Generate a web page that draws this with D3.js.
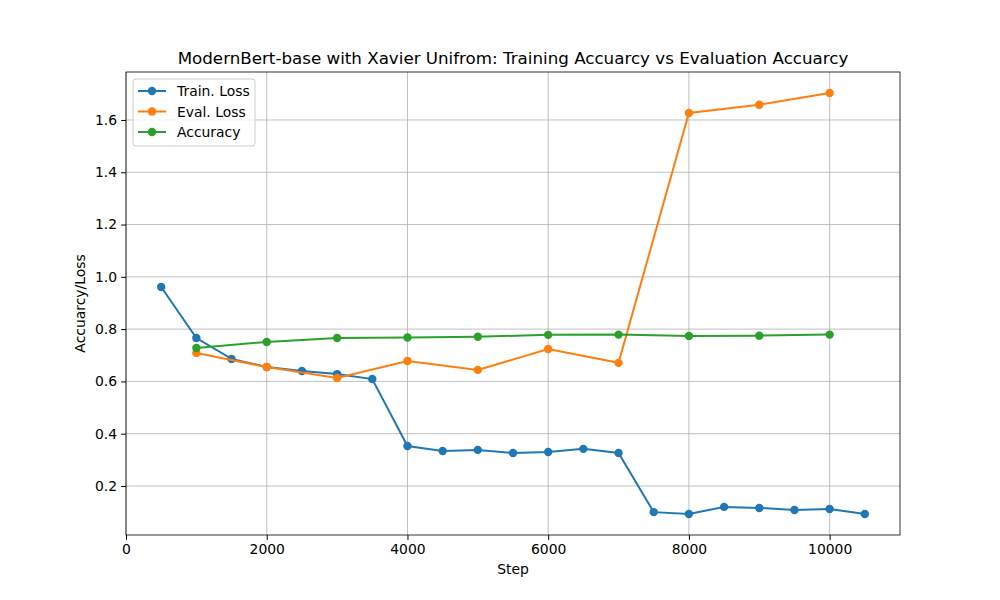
<!DOCTYPE html>
<html><head><meta charset="utf-8">
<script src="https://cdn.jsdelivr.net/npm/d3@7"></script>
<style>body{margin:0;background:#fff}text{font-family:"DejaVu Sans",sans-serif}</style>
</head><body>
<script>
var trainSteps = [500,1000,1500,2000,2500,3000,3500,4000,4500,5000,5500,6000,6500,7000,7500,8000,8500,9000,9500,10000,10500];
var trainLoss = [0.961,0.766,0.686,0.655,0.640,0.628,0.609,0.353,0.334,0.338,0.326,0.330,0.342,0.326,0.100,0.093,0.120,0.116,0.108,0.112,0.093];
var evalSteps = [1000,2000,3000,4000,5000,6000,7000,8000,9000,10000];
var evalLoss = [0.709,0.655,0.613,0.678,0.644,0.724,0.671,1.627,1.658,1.703];
var accuracy = [0.728,0.751,0.766,0.768,0.771,0.778,0.779,0.774,0.775,0.779];
var xTicks = [0,2000,4000,6000,8000,10000];
var yTicks = [0.2,0.4,0.6,0.8,1.0,1.2,1.4,1.6];

var w = 1000, h = 600;
var m = {left:126, right:900, top:72, bottom:535};
var svg = d3.select("body").append("svg").attr("width", w).attr("height", h);
var x = d3.scaleLinear().domain([0,11000]).range([m.left,m.right]);
var y = d3.scaleLinear().domain([0.0125,1.7835]).range([m.bottom,m.top]);

// grid
svg.append("g").selectAll("line").data(xTicks).enter().append("line")
  .attr("x1", d => x(d)).attr("x2", d => x(d)).attr("y1", m.top).attr("y2", m.bottom)
  .attr("stroke", "#b0b0b0").attr("stroke-width", 0.8);
svg.append("g").selectAll("line").data(yTicks).enter().append("line")
  .attr("y1", d => y(d)).attr("y2", d => y(d)).attr("x1", m.left).attr("x2", m.right)
  .attr("stroke", "#b0b0b0").attr("stroke-width", 0.8);

var xa = svg.append("g").attr("transform", "translate(0," + m.bottom + ")")
  .call(d3.axisBottom(x).tickValues(xTicks).tickSize(4.9).tickPadding(4).tickFormat(d3.format("d")));
var ya = svg.append("g").attr("transform", "translate(" + m.left + ",0)")
  .call(d3.axisLeft(y).tickValues(yTicks).tickSize(4.9).tickPadding(4).tickFormat(d3.format(".1f")));
[xa, ya].forEach(function(a) {
  a.select(".domain").remove();
  a.selectAll("text").attr("font-size", 13.9).attr("fill", "#000");
});
svg.append("rect").attr("x", m.left).attr("y", m.top).attr("width", m.right - m.left)
  .attr("height", m.bottom - m.top).attr("fill", "none").attr("stroke", "#000").attr("stroke-width", 0.8);

var series = [
  {name:"Train. Loss", xs:trainSteps, ys:trainLoss, color:"#1f77b4"},
  {name:"Eval. Loss", xs:evalSteps, ys:evalLoss, color:"#ff7f0e"},
  {name:"Accuracy", xs:evalSteps, ys:accuracy, color:"#2ca02c"}
];
var line = d3.line().x(d => x(d[0])).y(d => y(d[1]));
series.forEach(function(s) {
  var pts = s.xs.map((v, i) => [v, s.ys[i]]);
  svg.append("path").datum(pts).attr("d", line).attr("fill", "none")
    .attr("stroke", s.color).attr("stroke-width", 2);
  svg.append("g").selectAll("circle").data(pts).enter().append("circle")
    .attr("cx", d => x(d[0])).attr("cy", d => y(d[1])).attr("r", 4.2).attr("fill", s.color);
});

// legend
var lg = svg.append("g").attr("transform", "translate(133,79)");
lg.append("rect").attr("width", 122).attr("height", 67).attr("rx", 3)
  .attr("fill", "#fff").attr("fill-opacity", 0.8).attr("stroke", "#ccc");
series.forEach(function(s, i) {
  var yy = 12 + i * 20.5;
  lg.append("line").attr("x1", 5).attr("x2", 33).attr("y1", yy).attr("y2", yy)
    .attr("stroke", s.color).attr("stroke-width", 2);
  lg.append("circle").attr("cx", 19).attr("cy", yy).attr("r", 4.2).attr("fill", s.color);
  lg.append("text").attr("x", 44).attr("y", yy + 5).attr("font-size", 13.9).text(s.name);
});

svg.append("text").attr("x", (m.left + m.right) / 2).attr("y", 64).attr("text-anchor", "middle")
  .attr("font-size", 16.7).text("ModernBert-base with Xavier Unifrom: Training Accuarcy vs Evaluation Accuarcy");
svg.append("text").attr("x", (m.left + m.right) / 2).attr("y", 574).attr("text-anchor", "middle")
  .attr("font-size", 13.9).text("Step");
svg.append("text").attr("transform", "translate(85," + ((m.top + m.bottom) / 2) + ") rotate(-90)")
  .attr("text-anchor", "middle").attr("font-size", 13.9).text("Accuarcy/Loss");
</script>
</body></html>
